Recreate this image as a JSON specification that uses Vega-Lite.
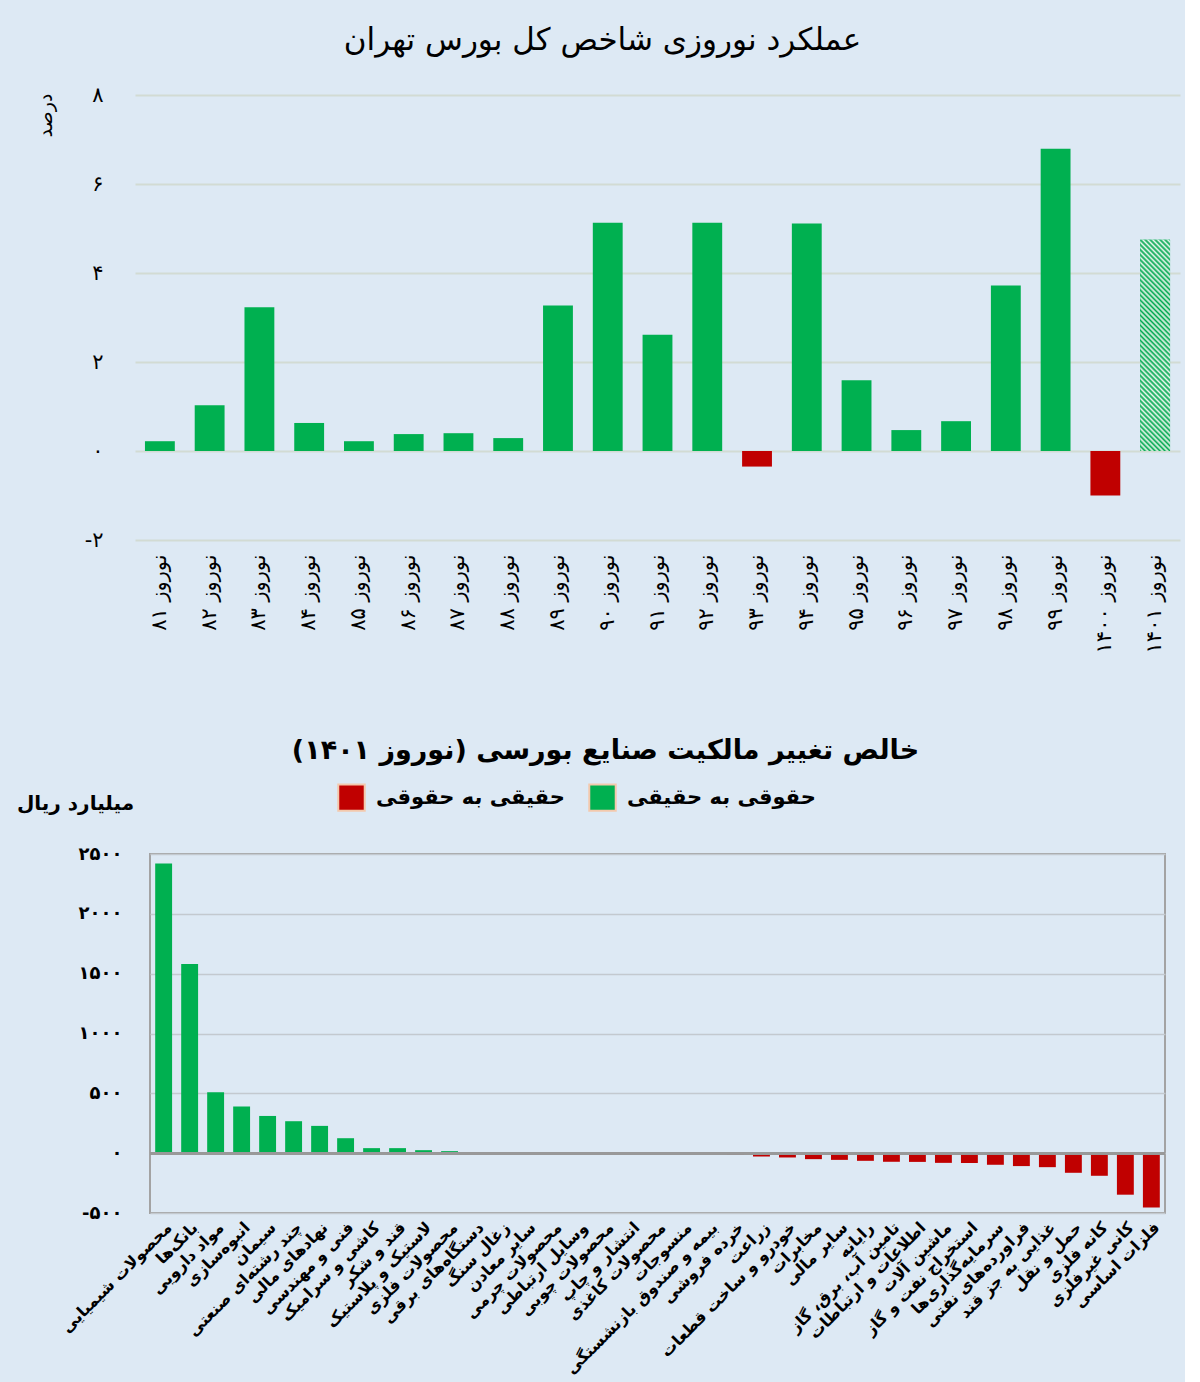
{
  "$schema": "https://vega.github.io/schema/vega-lite/v6.json",
  "background": "#dde9f4",
  "padding": {"left": 15, "top": 25, "right": 5, "bottom": 5},
  "datasets": {
    "top": [
      {"year": "نوروز ۸۱", "pct": 0.22},
      {"year": "نوروز ۸۲", "pct": 1.03},
      {"year": "نوروز ۸۳", "pct": 3.23},
      {"year": "نوروز ۸۴", "pct": 0.63},
      {"year": "نوروز ۸۵", "pct": 0.22},
      {"year": "نوروز ۸۶", "pct": 0.38},
      {"year": "نوروز ۸۷", "pct": 0.40},
      {"year": "نوروز ۸۸", "pct": 0.29},
      {"year": "نوروز ۸۹", "pct": 3.27},
      {"year": "نوروز ۹۰", "pct": 5.13},
      {"year": "نوروز ۹۱", "pct": 2.61},
      {"year": "نوروز ۹۲", "pct": 5.13},
      {"year": "نوروز ۹۳", "pct": -0.35},
      {"year": "نوروز ۹۴", "pct": 5.11},
      {"year": "نوروز ۹۵", "pct": 1.59},
      {"year": "نوروز ۹۶", "pct": 0.47},
      {"year": "نوروز ۹۷", "pct": 0.67},
      {"year": "نوروز ۹۸", "pct": 3.72},
      {"year": "نوروز ۹۹", "pct": 6.79},
      {"year": "نوروز ۱۴۰۰", "pct": -1.0},
      {"year": "نوروز ۱۴۰۱", "pct": 4.75}
    ],
    "bottom": [
      {"industry": "محصولات شیمیایی", "value": 2420, "dir": "حقوقی به حقیقی"},
      {"industry": "بانک‌ها", "value": 1580, "dir": "حقوقی به حقیقی"},
      {"industry": "مواد دارویی", "value": 510, "dir": "حقوقی به حقیقی"},
      {"industry": "انبوه‌سازی", "value": 390, "dir": "حقوقی به حقیقی"},
      {"industry": "سیمان", "value": 311, "dir": "حقوقی به حقیقی"},
      {"industry": "چند رشته‌ای صنعتی", "value": 267, "dir": "حقوقی به حقیقی"},
      {"industry": "نهادهای مالی", "value": 228, "dir": "حقوقی به حقیقی"},
      {"industry": "فنی و مهندسی", "value": 125, "dir": "حقوقی به حقیقی"},
      {"industry": "کاشی و سرامیک", "value": 42, "dir": "حقوقی به حقیقی"},
      {"industry": "قند و شکر", "value": 42, "dir": "حقوقی به حقیقی"},
      {"industry": "لاستیک و پلاستیک", "value": 25, "dir": "حقوقی به حقیقی"},
      {"industry": "محصولات فلزی", "value": 17, "dir": "حقوقی به حقیقی"},
      {"industry": "دستگاه‌های برقی", "value": 8, "dir": "حقوقی به حقیقی"},
      {"industry": "زغال سنگ", "value": 3, "dir": "حقوقی به حقیقی"},
      {"industry": "سایر معادن", "value": 2, "dir": "حقوقی به حقیقی"},
      {"industry": "محصولات چرمی", "value": 1, "dir": "حقوقی به حقیقی"},
      {"industry": "وسایل ارتباطی", "value": 1, "dir": "حقوقی به حقیقی"},
      {"industry": "محصولات چوبی", "value": 0, "dir": "حقوقی به حقیقی"},
      {"industry": "انتشار و چاپ", "value": 0, "dir": "حقوقی به حقیقی"},
      {"industry": "محصولات کاغذی", "value": 0, "dir": "حقیقی به حقوقی"},
      {"industry": "منسوجات", "value": -1, "dir": "حقیقی به حقوقی"},
      {"industry": "بیمه و صندوق بازنشستگی", "value": -2, "dir": "حقیقی به حقوقی"},
      {"industry": "خرده فروشی", "value": -15, "dir": "حقیقی به حقوقی"},
      {"industry": "زراعت", "value": -28, "dir": "حقیقی به حقوقی"},
      {"industry": "خودرو و ساخت قطعات", "value": -36, "dir": "حقیقی به حقوقی"},
      {"industry": "مخابرات", "value": -50, "dir": "حقیقی به حقوقی"},
      {"industry": "سایر مالی", "value": -56, "dir": "حقیقی به حقوقی"},
      {"industry": "رایانه", "value": -64, "dir": "حقیقی به حقوقی"},
      {"industry": "تامین آب، برق، گاز", "value": -72, "dir": "حقیقی به حقوقی"},
      {"industry": "اطلاعات و ارتباطات", "value": -73, "dir": "حقیقی به حقوقی"},
      {"industry": "ماشین آلات", "value": -81, "dir": "حقیقی به حقوقی"},
      {"industry": "استخراج نفت و گاز", "value": -82, "dir": "حقیقی به حقوقی"},
      {"industry": "سرمایه‌گذاری‌ها", "value": -97, "dir": "حقیقی به حقوقی"},
      {"industry": "فراورده‌های نفتی", "value": -108, "dir": "حقیقی به حقوقی"},
      {"industry": "غذایی به جز قند", "value": -117, "dir": "حقیقی به حقوقی"},
      {"industry": "حمل و نقل", "value": -164, "dir": "حقیقی به حقوقی"},
      {"industry": "کانه فلزی", "value": -189, "dir": "حقیقی به حقوقی"},
      {"industry": "کانی غیرفلزی", "value": -347, "dir": "حقیقی به حقوقی"},
      {"industry": "فلزات اساسی", "value": -453, "dir": "حقیقی به حقوقی"}
    ]
  },
  "bounds": "flush",
  "center": true,
  "spacing": 314,
  "vconcat": [
    {
      "width": 1045,
      "height": 445,
      "data": {"name": "top"},
      "title": {"text": "عملکرد نوروزی شاخص کل بورس تهران", "fontSize": 31, "fontWeight": "normal", "offset": 27, "anchor": "middle", "dx": -55, "color": "#000000"},
      "layer": [
        {
          "mark": {"type": "bar"},
          "encoding": {
            "x": {
              "field": "year", "type": "nominal", "sort": null,
              "scale": {"paddingInner": 0.4, "paddingOuter": 0.2},
              "axis": {"title": null, "labelAngle": -90, "labelFontSize": 21, "labelColor": "#000000", "labelPadding": 14, "ticks": false, "domain": false, "grid": false}
            },
            "y": {
              "field": "pct", "type": "quantitative",
              "scale": {"domain": [-2, 8], "nice": false},
              "axis": {
                "values": [-2, 0, 2, 4, 6, 8],
                "title": "درصد", "titleFontSize": 19, "titleFontWeight": "normal", "titleColor": "#000000",
                "titleX": -90, "titleY": 20, "titleAlign": "center", "titleBaseline": "middle", "titleAngle": 270,
                "labelExpr": "replace(replace(replace(replace(replace(replace(replace(replace(replace(replace(toString(datum.value),regexp('0','g'),'۰'),regexp('1','g'),'۱'),regexp('2','g'),'۲'),regexp('3','g'),'۳'),regexp('4','g'),'۴'),regexp('5','g'),'۵'),regexp('6','g'),'۶'),regexp('7','g'),'۷'),regexp('8','g'),'۸'),regexp('9','g'),'۹')",
                "labelFontSize": 21, "labelColor": "#000000", "labelPadding": 32,
                "domain": false, "ticks": false,
                "gridColor": "#d2dbd3", "gridWidth": 2
              }
            },
            "color": {"condition": {"test": "datum.pct < 0", "value": "#c00000"}, "value": "#00b050"}
          }
        },
        {
          "transform": [{"filter": "datum.year === 'نوروز ۱۴۰۱'"}],
          "mark": {
            "type": "bar",
            "fill": {
              "gradient": "linear", "x1": 0, "y1": 1, "x2": 0.16, "y2": -0.12,
              "stops": [
                {"offset": 0, "color": "#00a84f"}, {"offset": 0.0104, "color": "#eaf6ee"}, {"offset": 0.0208, "color": "#00a84f"}, {"offset": 0.0313, "color": "#eaf6ee"},
                {"offset": 0.0417, "color": "#00a84f"}, {"offset": 0.0521, "color": "#eaf6ee"}, {"offset": 0.0625, "color": "#00a84f"}, {"offset": 0.0729, "color": "#eaf6ee"},
                {"offset": 0.0833, "color": "#00a84f"}, {"offset": 0.0938, "color": "#eaf6ee"}, {"offset": 0.1042, "color": "#00a84f"}, {"offset": 0.1146, "color": "#eaf6ee"},
                {"offset": 0.125, "color": "#00a84f"}, {"offset": 0.1354, "color": "#eaf6ee"}, {"offset": 0.1458, "color": "#00a84f"}, {"offset": 0.1563, "color": "#eaf6ee"},
                {"offset": 0.1667, "color": "#00a84f"}, {"offset": 0.1771, "color": "#eaf6ee"}, {"offset": 0.1875, "color": "#00a84f"}, {"offset": 0.1979, "color": "#eaf6ee"},
                {"offset": 0.2083, "color": "#00a84f"}, {"offset": 0.2188, "color": "#eaf6ee"}, {"offset": 0.2292, "color": "#00a84f"}, {"offset": 0.2396, "color": "#eaf6ee"},
                {"offset": 0.25, "color": "#00a84f"}, {"offset": 0.2604, "color": "#eaf6ee"}, {"offset": 0.2708, "color": "#00a84f"}, {"offset": 0.2813, "color": "#eaf6ee"},
                {"offset": 0.2917, "color": "#00a84f"}, {"offset": 0.3021, "color": "#eaf6ee"}, {"offset": 0.3125, "color": "#00a84f"}, {"offset": 0.3229, "color": "#eaf6ee"},
                {"offset": 0.3333, "color": "#00a84f"}, {"offset": 0.3438, "color": "#eaf6ee"}, {"offset": 0.3542, "color": "#00a84f"}, {"offset": 0.3646, "color": "#eaf6ee"},
                {"offset": 0.375, "color": "#00a84f"}, {"offset": 0.3854, "color": "#eaf6ee"}, {"offset": 0.3958, "color": "#00a84f"}, {"offset": 0.4063, "color": "#eaf6ee"},
                {"offset": 0.4167, "color": "#00a84f"}, {"offset": 0.4271, "color": "#eaf6ee"}, {"offset": 0.4375, "color": "#00a84f"}, {"offset": 0.4479, "color": "#eaf6ee"},
                {"offset": 0.4583, "color": "#00a84f"}, {"offset": 0.4688, "color": "#eaf6ee"}, {"offset": 0.4792, "color": "#00a84f"}, {"offset": 0.4896, "color": "#eaf6ee"},
                {"offset": 0.5, "color": "#00a84f"}, {"offset": 0.5104, "color": "#eaf6ee"}, {"offset": 0.5208, "color": "#00a84f"}, {"offset": 0.5313, "color": "#eaf6ee"},
                {"offset": 0.5417, "color": "#00a84f"}, {"offset": 0.5521, "color": "#eaf6ee"}, {"offset": 0.5625, "color": "#00a84f"}, {"offset": 0.5729, "color": "#eaf6ee"},
                {"offset": 0.5833, "color": "#00a84f"}, {"offset": 0.5938, "color": "#eaf6ee"}, {"offset": 0.6042, "color": "#00a84f"}, {"offset": 0.6146, "color": "#eaf6ee"},
                {"offset": 0.625, "color": "#00a84f"}, {"offset": 0.6354, "color": "#eaf6ee"}, {"offset": 0.6458, "color": "#00a84f"}, {"offset": 0.6563, "color": "#eaf6ee"},
                {"offset": 0.6667, "color": "#00a84f"}, {"offset": 0.6771, "color": "#eaf6ee"}, {"offset": 0.6875, "color": "#00a84f"}, {"offset": 0.6979, "color": "#eaf6ee"},
                {"offset": 0.7083, "color": "#00a84f"}, {"offset": 0.7188, "color": "#eaf6ee"}, {"offset": 0.7292, "color": "#00a84f"}, {"offset": 0.7396, "color": "#eaf6ee"},
                {"offset": 0.75, "color": "#00a84f"}, {"offset": 0.7604, "color": "#eaf6ee"}, {"offset": 0.7708, "color": "#00a84f"}, {"offset": 0.7813, "color": "#eaf6ee"},
                {"offset": 0.7917, "color": "#00a84f"}, {"offset": 0.8021, "color": "#eaf6ee"}, {"offset": 0.8125, "color": "#00a84f"}, {"offset": 0.8229, "color": "#eaf6ee"},
                {"offset": 0.8333, "color": "#00a84f"}, {"offset": 0.8438, "color": "#eaf6ee"}, {"offset": 0.8542, "color": "#00a84f"}, {"offset": 0.8646, "color": "#eaf6ee"},
                {"offset": 0.875, "color": "#00a84f"}, {"offset": 0.8854, "color": "#eaf6ee"}, {"offset": 0.8958, "color": "#00a84f"}, {"offset": 0.9063, "color": "#eaf6ee"},
                {"offset": 0.9167, "color": "#00a84f"}, {"offset": 0.9271, "color": "#eaf6ee"}, {"offset": 0.9375, "color": "#00a84f"}, {"offset": 0.9479, "color": "#eaf6ee"},
                {"offset": 0.9583, "color": "#00a84f"}, {"offset": 0.9688, "color": "#eaf6ee"}, {"offset": 0.9792, "color": "#00a84f"}, {"offset": 0.9896, "color": "#eaf6ee"},
                {"offset": 1, "color": "#00a84f"}
              ]
            }
          },
          "encoding": {
            "x": {"field": "year", "type": "nominal", "sort": null},
            "y": {"field": "pct", "type": "quantitative"}
          }
        }
      ]
    },
    {
      "width": 1015,
      "height": 359,
      "data": {"name": "bottom"},
      "view": {"stroke": "#a3a3a3", "strokeWidth": 2},
      "title": {"text": "خالص تغییر مالکیت صنایع بورسی (نوروز ۱۴۰۱)‏", "fontSize": 27, "fontWeight": "bold", "offset": 28, "anchor": "middle", "dx": -52, "color": "#000000"},
      "layer": [
        {
          "mark": {"type": "bar"},
          "encoding": {
            "x": {
              "field": "industry", "type": "nominal", "sort": null,
              "scale": {"paddingInner": 0.35, "paddingOuter": 0.2},
              "axis": {"title": null, "labelAngle": -45, "labelFontSize": 16, "labelFontWeight": "bold", "labelColor": "#000000", "labelPadding": 6, "labelLimit": 300, "ticks": false, "domain": false, "grid": false}
            },
            "y": {
              "field": "value", "type": "quantitative",
              "scale": {"domain": [-500, 2500], "nice": false},
              "axis": {
                "values": [-500, 0, 500, 1000, 1500, 2000, 2500],
                "title": "میلیارد ریال", "titleFontSize": 20, "titleFontWeight": "bold", "titleColor": "#000000",
                "titleAngle": 0, "titleX": -75, "titleY": -51, "titleAlign": "center", "titleBaseline": "middle",
                "labelExpr": "replace(replace(replace(replace(replace(replace(replace(replace(replace(replace(toString(datum.value),regexp('0','g'),'۰'),regexp('1','g'),'۱'),regexp('2','g'),'۲'),regexp('3','g'),'۳'),regexp('4','g'),'۴'),regexp('5','g'),'۵'),regexp('6','g'),'۶'),regexp('7','g'),'۷'),regexp('8','g'),'۸'),regexp('9','g'),'۹')",
                "labelFontSize": 18, "labelFontWeight": "bold", "labelColor": "#000000", "labelPadding": 28,
                "domain": false, "ticks": false,
                "gridColor": "#c3c9cf", "gridWidth": 1.5
              }
            },
            "color": {
              "field": "dir", "type": "nominal",
              "scale": {"domain": ["حقیقی به حقوقی", "حقوقی به حقیقی"], "range": ["#c00000", "#00b050"]},
              "legend": {
                "title": null, "orient": "none", "direction": "horizontal", "legendX": 202, "legendY": 688,
                "symbolType": "square", "symbolSize": 700, "symbolStrokeColor": "#f3c9ad", "symbolStrokeWidth": 2, "symbolOpacity": 1,
                "labelFontSize": 21, "labelFontWeight": "bold", "labelColor": "#000000", "columnPadding": 20, "labelOffset": 10, "labelLimit": 400
              }
            }
          }
        },
        {
          "mark": {"type": "rule", "color": "#999999", "strokeWidth": 2},
          "encoding": {"y": {"datum": 0}}
        }
      ]
    }
  ],
  "config": {
    "font": "DejaVu Sans",
    "view": {"stroke": null}
  }
}
